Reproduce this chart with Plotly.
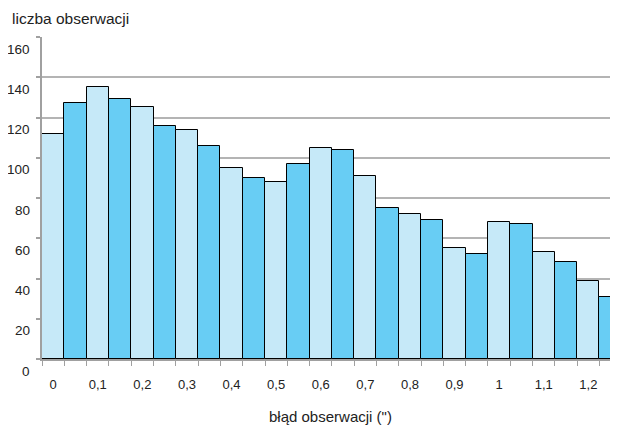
import plotly.graph_objects as go

# bin start values (width 0.05) and observation counts
bins = [0.00, 0.05, 0.10, 0.15, 0.20, 0.25, 0.30, 0.35, 0.40, 0.45, 0.50, 0.55, 0.60,
        0.65, 0.70, 0.75, 0.80, 0.85, 0.90, 0.95, 1.00, 1.05, 1.10, 1.15, 1.20, 1.25]
counts = [112, 127, 135, 129, 125, 116, 114, 106, 95, 90, 88, 97, 105,
          104, 91, 75, 72, 69, 55, 52, 68, 67, 53, 48, 39, 31]

x_tick_vals = [0.0, 0.1, 0.2, 0.3, 0.4, 0.5, 0.6, 0.7, 0.8, 0.9, 1.0, 1.1, 1.2]
x_tick_text = ["0", "0,1", "0,2", "0,3", "0,4", "0,5", "0,6", "0,7", "0,8", "0,9", "1", "1,1", "1,2"]
y_tick_vals = [0, 20, 40, 60, 80, 100, 120, 140, 160]
y_tick_text = ["0", "20", "40", "60", "80", "100", "120", "140", "160"]

x_title = "błąd obserwacji (\")"
y_title = "liczba obserwacji"

LIGHT = "#c6e9f8"
DARK = "#68cdf4"
bar_colors = [LIGHT if i % 2 == 0 else DARK for i in range(len(bins))]
bin_width = 0.05
edges = [b - bin_width / 2 for b in bins] + [bins[-1] + bin_width / 2]

FONT = "Liberation Sans, Arial, sans-serif"
TXT = "#222222"

fig = go.Figure()
fig.add_trace(go.Bar(
    x=bins, y=counts, width=bin_width,
    marker=dict(color=bar_colors, line=dict(color="#000000", width=1)),
    showlegend=False, hoverinfo="x+y",
))

# the page body adds an 8px margin, so the figure is sized/placed to compensate
fig.update_layout(
    width=610, height=419,
    margin=dict(l=34, r=0, t=29, b=68, autoexpand=False),
    paper_bgcolor="white", plot_bgcolor="white",
    font=dict(family=FONT, size=13, color=TXT),
    bargap=0,
    xaxis=dict(
        range=[-0.025, 1.2665], automargin=False,
        tickmode="array", tickvals=x_tick_vals, ticktext=x_tick_text,
        ticks="", ticklabelstandoff=13,
        tickfont=dict(size=13, color=TXT),
        showgrid=False, zeroline=False,
        showline=True, linecolor="#a0a0a0", linewidth=1.5,
        minor=dict(tickvals=edges, ticks="outside", ticklen=5, tickcolor="#a0a0a0", tickwidth=1),
    ),
    yaxis=dict(
        range=[0, 160], automargin=False,
        tickmode="array", tickvals=y_tick_vals, ticktext=["" for _ in y_tick_vals],
        ticks="outside", ticklen=4, tickcolor="#a0a0a0", tickwidth=1.5,
        showgrid=True, gridcolor="#b4b4b4", gridwidth=1.5,
        zeroline=False,
        showline=True, linecolor="#a0a0a0", linewidth=1.5,
    ),
)

# y tick labels (drawn slightly below their gridlines, as in the original)
for v, t in zip(y_tick_vals, y_tick_text):
    fig.add_annotation(x=0, xref="paper", xanchor="right", xshift=-10,
                       y=v, yref="y", yanchor="middle", yshift=-12,
                       text=t, showarrow=False, font=dict(size=13.5, color=TXT))

fig.add_annotation(x=-32 / 576, xref="paper", xanchor="left",
                   y=1.058, yref="paper", yanchor="middle",
                   text=y_title, showarrow=False, font=dict(size=15.5, color=TXT))
fig.add_annotation(x=0.5, xref="paper", xanchor="center",
                   y=-0.179, yref="paper", yanchor="middle",
                   text=x_title, showarrow=False, font=dict(size=15, color=TXT))

fig.write_html("out.html")
